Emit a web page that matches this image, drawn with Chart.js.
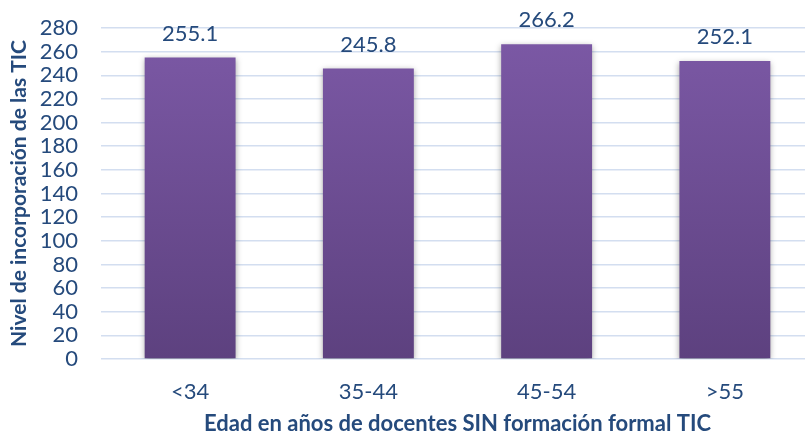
<!DOCTYPE html>
<html>
<head>
<meta charset="utf-8">
<script src="https://cdn.jsdelivr.net/npm/chart.js@4"></script>
<style>
  html, body { margin:0; padding:0; background:#fff; overflow:hidden; }
  #wrap { width:814px; height:437px; }
</style>
</head>
<body>
<div id="wrap"><canvas id="myChart"></canvas></div>
<script>
// data
const categorias = ['<34', '35-44', '45-54', '>55'];
const valores = [255.1, 245.8, 266.2, 252.1];
const tituloX = 'Edad en años de docentes SIN formación formal TIC';
const tituloY = 'Nivel de incorporación de las TIC';

const azul = '#254a7c';
const fuente = 'Lato, "Noto Sans", sans-serif';

// purple bars, lighter at top
function degradado(context) {
    const area = context.chart.chartArea;
    if (!area) return '#6b4c93';
    const g = context.chart.ctx.createLinearGradient(0, area.top, 0, area.bottom);
    g.addColorStop(0, '#7c59a6');
    g.addColorStop(1, '#5d417f');
    return g;
}

// soft shadow round the bars
const sombra = {
    id: 'sombra',
    beforeDatasetDraw(chart) {
        const ctx = chart.ctx;
        ctx.save();
        ctx.shadowColor = 'rgba(0,0,0,0.35)';
        ctx.shadowBlur = 6;
        ctx.shadowOffsetY = 2;
    },
    afterDatasetDraw(chart) {
        chart.ctx.restore();
    }
};

// value labels over each bar
const etiquetas = {
    id: 'etiquetas',
    afterDatasetsDraw(chart) {
        const ctx = chart.ctx;
        const meta = chart.getDatasetMeta(0);
        ctx.save();
        ctx.fillStyle = azul;
        ctx.font = '22px ' + fuente;
        ctx.textAlign = 'center';
        ctx.textBaseline = 'middle';
        meta.data.forEach(function(bar, k) {
            ctx.fillText(valores[k].toFixed(1), bar.x, bar.y - 24);
        });
        ctx.restore();
    }
};

let myChart = document.getElementById('myChart').getContext('2d');

let chart = new Chart(myChart, {
    type: 'bar',
    data: {
        labels: categorias,
        datasets: [{
            data: valores,
            backgroundColor: degradado,
            borderWidth: 0,
            barPercentage: 1,
            categoryPercentage: 0.51
        }]
    },
    plugins: [sombra, etiquetas],
    options: {
        responsive: true,
        maintainAspectRatio: false,
        animation: false,
        layout: { padding: { top: 28, right: 0, bottom: 0, left: 0 } },
        plugins: {
            legend: { display: false },
            tooltip: { enabled: false }
        },
        scales: {
            x: {
                grid: { display: false, drawTicks: false },
                border: { display: false },
                ticks: { color: azul, font: { family: fuente, size: 22 }, padding: 20 },
                title: {
                    display: true,
                    text: tituloX,
                    color: azul,
                    font: { family: fuente, size: 22, weight: 'bold' },
                    padding: { top: 0, bottom: 0 }
                },
                afterFit(scale) { scale.height = 78; }
            },
            y: {
                min: 0,
                max: 280,
                ticks: { stepSize: 20, autoSkip: false, color: azul, font: { family: fuente, size: 22 }, padding: 23 },
                grid: { color: '#d3def0', lineWidth: 1.5, drawTicks: false },
                border: { display: false },
                title: {
                    display: true,
                    text: tituloY,
                    color: azul,
                    font: { family: fuente, size: 21, weight: 'bold' },
                    padding: { top: 7, bottom: 0 }
                },
                afterFit(scale) {
                    scale.width = 101;
                    scale.paddingTop = 0;
                    scale.paddingBottom = 0;
                }
            }
        }
    }
});
</script>
</body>
</html>
